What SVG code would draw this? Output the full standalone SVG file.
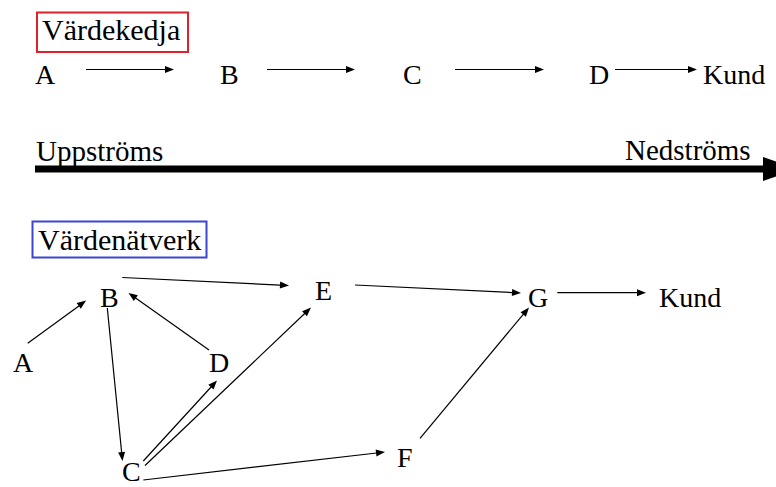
<svg xmlns="http://www.w3.org/2000/svg" width="776" height="487" viewBox="0 0 776 487">
<style>
  .s1 { font-family: serif; font-size: 28px; }
  .s2 { font-family: serif; font-size: 30px; }
  .s3 { font-family: serif; font-size: 29px; }
  .edge { stroke: #000; stroke-width: 1.2; fill: none; }
  .head { fill: #000; }
</style>
<defs>
  <path id="hd" d="M0,0 L-9,-3.5 L-9,3.5 z"/>
</defs>
<rect width="776" height="487" fill="#fff"/>

<g id="title-chain">
  <rect x="37" y="12.5" width="151" height="39.5" fill="none" stroke="#e0202a" stroke-width="2"/>
  <text class="s2" x="42" y="40">Värdekedja</text>
</g>
<g id="chain-A"><text class="s1" x="35" y="84">A</text></g>
<g id="chain-B"><text class="s1" x="220" y="84">B</text></g>
<g id="chain-C"><text class="s1" x="403" y="84">C</text></g>
<g id="chain-D"><text class="s1" x="589" y="84">D</text></g>
<g id="chain-Kund"><text class="s1" x="703" y="84">Kund</text></g>

<g id="chain-connectors">
  <line class="edge" x1="86" y1="69.5" x2="170" y2="69.5"/>
  <use href="#hd" class="head" transform="translate(174,69.5)"/>
  <line class="edge" x1="267" y1="69.5" x2="351" y2="69.5"/>
  <use href="#hd" class="head" transform="translate(355,69.5)"/>
  <line class="edge" x1="455" y1="69.5" x2="540" y2="69.5"/>
  <use href="#hd" class="head" transform="translate(544,69.5)"/>
  <line class="edge" x1="615" y1="69.5" x2="693" y2="69.5"/>
  <use href="#hd" class="head" transform="translate(697,69.5)"/>
</g>

<g id="stream">
  <text class="s3" x="36" y="161">Uppströms</text>
  <text class="s3" x="625" y="160">Nedströms</text>
  <rect x="35" y="165.5" width="730" height="7" fill="#000"/>
  <polygon points="763,157 797,169 763,181" fill="#000"/>
</g>

<g id="title-network">
  <rect x="32.5" y="221.5" width="174" height="36" fill="none" stroke="#3a46d0" stroke-width="2"/>
  <text class="s2" x="38" y="250">Värdenätverk</text>
</g>
<g id="net-A"><text class="s1" x="13" y="372">A</text></g>
<g id="net-B"><text class="s1" x="100" y="307">B</text></g>
<g id="net-C"><text class="s1" x="122" y="481">C</text></g>
<g id="net-D"><text class="s1" x="209" y="372">D</text></g>
<g id="net-E"><text class="s1" x="315" y="300">E</text></g>
<g id="net-F"><text class="s1" x="397" y="467">F</text></g>
<g id="net-G"><text class="s1" x="528" y="307">G</text></g>
<g id="net-Kund"><text class="s1" x="659" y="307">Kund</text></g>

<g id="network-connectors">
  <line class="edge" x1="27.7" y1="343.3" x2="83" y2="302.9"/>
  <use href="#hd" class="head" transform="translate(86,300.5) rotate(-36.3)"/>
  <line class="edge" x1="122.3" y1="277.5" x2="285" y2="285.3"/>
  <use href="#hd" class="head" transform="translate(289,285.5) rotate(2.75)"/>
  <line class="edge" x1="209" y1="350" x2="131.7" y2="295.3"/>
  <use href="#hd" class="head" transform="translate(128.5,293) rotate(-144.7)"/>
  <line class="edge" x1="107.3" y1="308" x2="122.1" y2="457"/>
  <use href="#hd" class="head" transform="translate(122.5,461) rotate(84.3)"/>
  <line class="edge" x1="143.3" y1="461" x2="214.3" y2="383.5"/>
  <use href="#hd" class="head" transform="translate(217,380.5) rotate(-47.5)"/>
  <line class="edge" x1="145" y1="465.5" x2="308.1" y2="310.3"/>
  <use href="#hd" class="head" transform="translate(311,307.5) rotate(-43.6)"/>
  <line class="edge" x1="143.3" y1="480" x2="381" y2="452.5"/>
  <use href="#hd" class="head" transform="translate(385,452) rotate(-6.6)"/>
  <line class="edge" x1="355" y1="285" x2="517" y2="292.8"/>
  <use href="#hd" class="head" transform="translate(521,293) rotate(2.76)"/>
  <line class="edge" x1="420" y1="438.3" x2="526.4" y2="310.6"/>
  <use href="#hd" class="head" transform="translate(529,307.5) rotate(-50.2)"/>
  <line class="edge" x1="557.3" y1="292.7" x2="642" y2="292.7"/>
  <use href="#hd" class="head" transform="translate(646,292.7)"/>
</g>
</svg>
